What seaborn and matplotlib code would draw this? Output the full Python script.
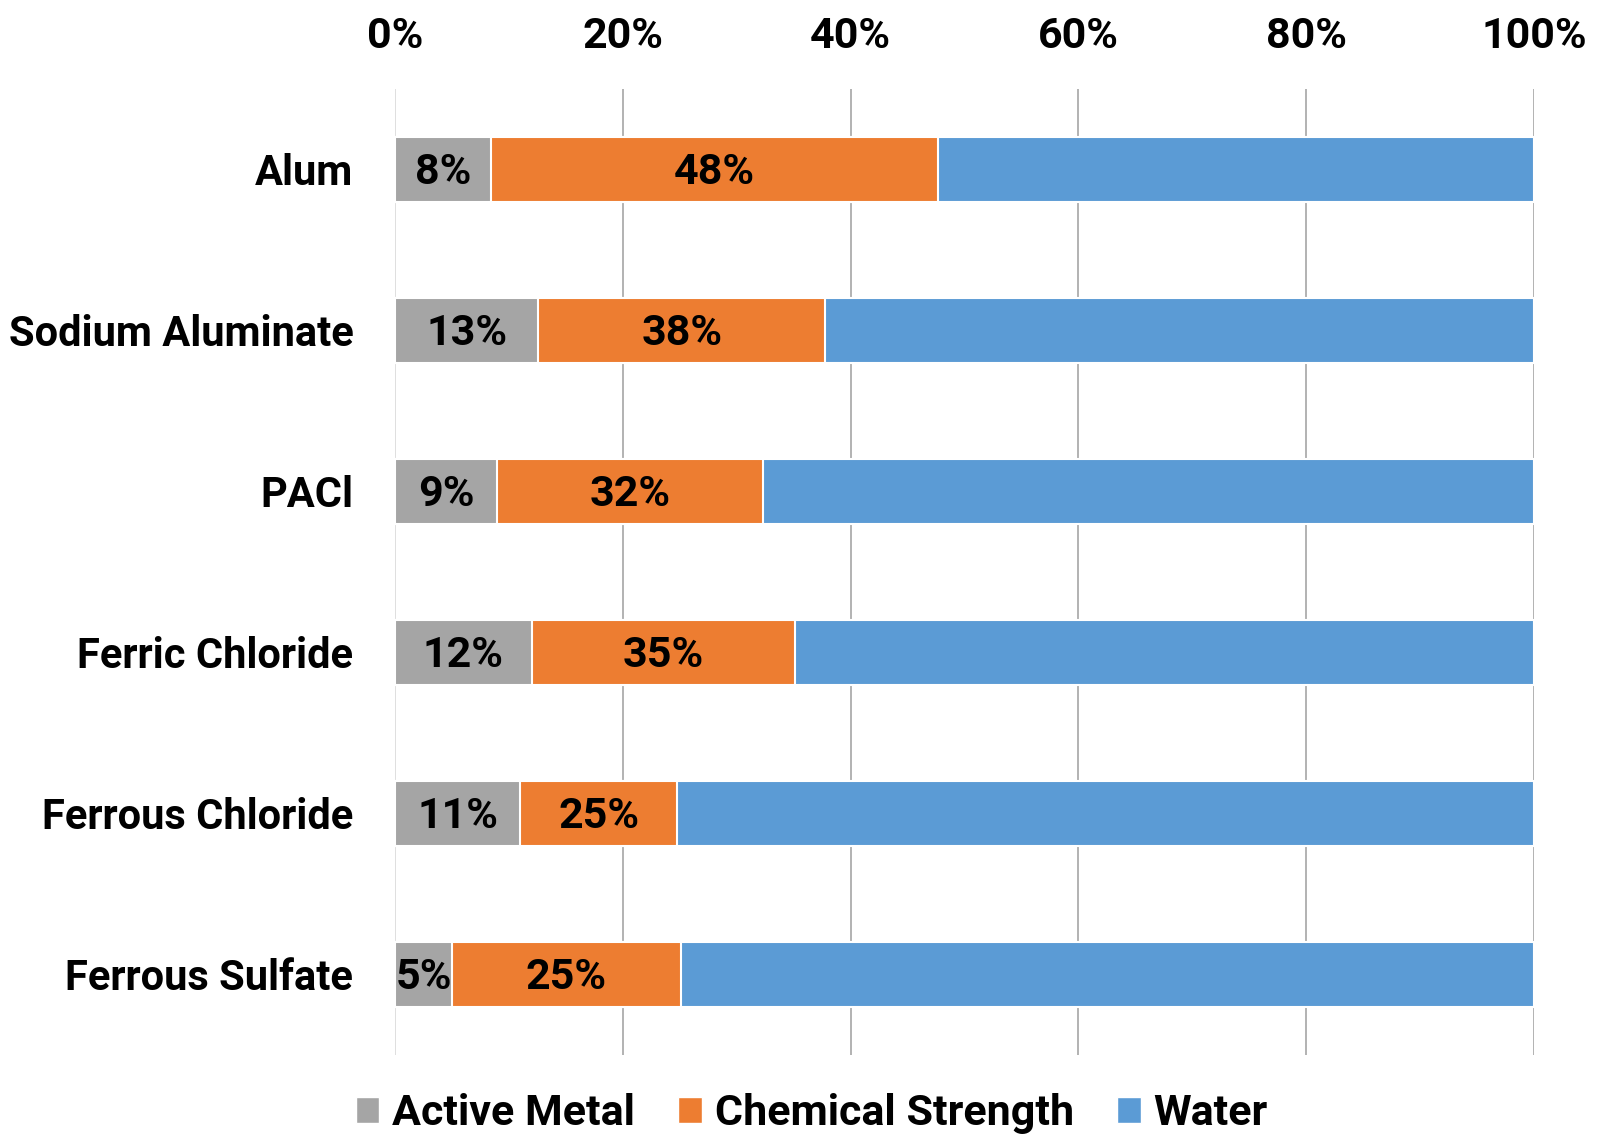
import matplotlib
matplotlib.use("Agg")
import matplotlib.pyplot as plt
from matplotlib.patches import Patch
import seaborn as sns
import pandas as pd

# Coagulant composition (% by weight)
chemicals = ["Alum", "Sodium Aluminate", "PACl", "Ferric Chloride",
             "Ferrous Chloride", "Ferrous Sulfate"]
active_metal = [8.4, 12.6, 9.0, 12.0, 11.0, 5.0]
chemical_strength = [47.7, 37.8, 32.3, 35.1, 24.8, 25.1]
water_total = [100, 100, 100, 100, 100, 100]
series_names = ["Active Metal", "Chemical Strength", "Water"]
tick_values = [0, 20, 40, 60, 80, 100]

colors = {"Active Metal": "#A5A5A5", "Chemical Strength": "#ED7D31", "Water": "#5B9BD5"}

sns.set_theme(style="white")
plt.rcParams["font.family"] = ["Roboto", "DejaVu Sans"]
plt.rcParams["font.weight"] = "bold"
plt.rcParams["text.color"] = "black"
plt.rcParams["xtick.color"] = "black"
plt.rcParams["ytick.color"] = "black"

df = pd.DataFrame({
    "chemical": chemicals,
    "active": active_metal,
    "strength": chemical_strength,
    "water": water_total,
})

fig = plt.figure(figsize=(16.01, 11.35), dpi=100)
ax = fig.add_axes([0.2467, 0.0705, 0.7114, 0.8511])

# Gridlines behind the bars
for v in tick_values:
    ax.axvline(v, color="#D9D9D9" if v == 0 else "#A6A6A6", lw=1.2, zorder=0)

# Overlapping bars: water spans the full 100%, chemical strength includes the active metal
bar_kw = dict(orient="h", width=0.4, edgecolor="white", linewidth=1.5, ax=ax, zorder=2)
sns.barplot(data=df, x="water", y="chemical", color=colors["Water"], saturation=1, **bar_kw)
sns.barplot(data=df, x="strength", y="chemical", color=colors["Chemical Strength"], saturation=1, **bar_kw)
sns.barplot(data=df, x="active", y="chemical", color=colors["Active Metal"], saturation=1, **bar_kw)

fs = 31
for i, (a, s) in enumerate(zip(active_metal, chemical_strength)):
    ax.text(a / 2, i + 0.02, f"{a:.0f}%", ha="center", va="center", fontsize=fs,
            fontweight="bold", color="black", zorder=5)
    ax.text((a + s) / 2, i + 0.02, f"{s:.0f}%", ha="center", va="center", fontsize=fs,
            fontweight="bold", color="black", zorder=5)

ax.set_xlim(0, 100)
ax.set_ylim(5.5, -0.5)
ax.set_xticks(tick_values)
ax.set_xticklabels([f"{v}%" for v in tick_values], fontsize=fs, fontweight="bold")
ax.xaxis.tick_top()
ax.tick_params(axis="x", length=0, pad=23)
ax.tick_params(axis="y", length=0, pad=30, labelsize=30)
for lab in ax.get_yticklabels():
    lab.set_fontweight("bold")
ax.set_xlabel("")
ax.set_ylabel("")
ax.grid(False)
for sp in ax.spines.values():
    sp.set_visible(False)

handles = [Patch(facecolor=colors[n], edgecolor="white", label=n) for n in series_names]
fig.legend(handles=handles, loc="center", bbox_to_anchor=(0.507, 0.019), ncol=3,
           frameon=False, handlelength=0.55, handleheight=0.55,
           handletextpad=0.3, columnspacing=1.0, prop={"weight": "bold", "size": fs})

fig.savefig("out.png", dpi=100)
